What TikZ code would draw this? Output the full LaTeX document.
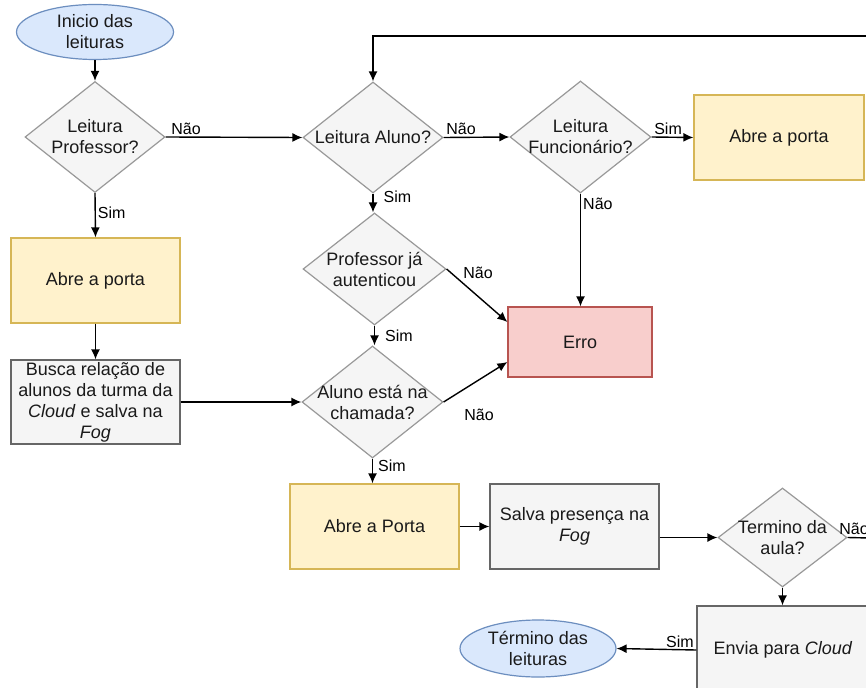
\documentclass[tikz,border=0pt]{standalone}
\usepackage{fontspec}
\setmainfont{Liberation Sans}
\usetikzlibrary{shapes.geometric,arrows.meta,calc}
\definecolor{bluef}{HTML}{DAE8FC}\definecolor{blued}{HTML}{6C8EBF}
\definecolor{yelf}{HTML}{FFF2CC}\definecolor{yeld}{HTML}{D6B656}
\definecolor{redf}{HTML}{F8CECC}\definecolor{redd}{HTML}{B85450}
\definecolor{grayf}{HTML}{F5F5F5}\definecolor{grayd}{HTML}{666666}
\definecolor{diad}{HTML}{999999}\definecolor{txt}{HTML}{1A1A1A}
\tikzset{
  base/.style={inner sep=0pt, align=center, text=txt, line width=1.2pt, font=\fontsize{18}{21}\selectfont},
  term/.style={base, ellipse, fill=bluef, draw=blued},
  yelbox/.style={base, rectangle, fill=yelf, draw=yeld},
  graybox/.style={base, rectangle, fill=grayf, draw=grayd},
  redbox/.style={base, rectangle, fill=redf, draw=redd},
  decis/.style={base, diamond, fill=grayf, draw=diad},
  dtxt/.style={base, draw=none, fill=none},
  arr/.style={line width=1.4pt, -{Latex[length=10pt,width=9pt]}},
  plain/.style={line width=1.4pt},
  lbl/.style={inner sep=2pt, text=black, font=\fontsize{16}{18}\selectfont}
}
\begin{document}
\begin{tikzpicture}[x=1pt,y=-1pt]
\clip (0,0) rectangle (866,687);
\fill[white] (0,0) rectangle (866,687);
% nodes
\node[term, minimum width=157pt, minimum height=55pt] (ini) at (95,32) {Inicio das\\leituras};
\node[decis, minimum width=140pt, minimum height=111pt] (lp) at (95,137) {};
\node[dtxt] (lpt) at (lp) {Leitura\\Professor?};
\node[yelbox, minimum width=169pt, minimum height=85pt] (ab1) at (95.5,280.5) {Abre a porta};
\node[graybox, minimum width=169pt, minimum height=84pt] (busca) at (95.5,402) {Busca relação de\\alunos da turma da\\\textit{Cloud} e salva na\\\textit{Fog}};
\node[decis, minimum width=140pt, minimum height=111pt] (la) at (373,137.5) {};
\node[dtxt] (lat) at (la) {Leitura Aluno?};
\node[decis, minimum width=141pt, minimum height=112pt] (lf) at (580.5,137) {};
\node[dtxt] (lft) at (lf) {Leitura\\Funcionário?};
\node[yelbox, minimum width=170pt, minimum height=85pt] (ab2) at (779,137.5) {Abre a porta};
\node[decis, minimum width=143pt, minimum height=112pt] (pj) at (374.5,269) {};
\node[dtxt] (pjt) at (pj) {Professor já\\autenticou};
\node[redbox, minimum width=144pt, minimum height=70pt] (erro) at (580,342) {Erro};
\node[decis, minimum width=141pt, minimum height=112pt] (ac) at (372.5,402) {};
\node[dtxt] (act) at (ac) {Aluno está na\\chamada?};
\node[yelbox, minimum width=169pt, minimum height=85pt] (ab3) at (374.5,526.5) {Abre a Porta};
\node[graybox, minimum width=169pt, minimum height=85pt] (salva) at (574.5,526.5) {Salva presença na\\\textit{Fog}};
\node[decis, minimum width=129pt, minimum height=99pt] (tm) at (782.5,537.5) {};
\node[dtxt] (tmt) at (tm) {Termino da\\aula?};
\node[graybox, minimum width=172pt, minimum height=88pt] (env) at (783,650) {Envia para \textit{Cloud}};
\node[term, minimum width=156pt, minimum height=57pt] (te) at (538,648.5) {Término das\\leituras};
\coordinate (loopR) at (870,36);
\coordinate (tmR) at (870,538);
% connectors
\draw[arr] (ini) -- (lp);
\draw[arr] (lp.east) -- node[lbl, at start, anchor=south west, xshift=3pt] {Não} (la.west);
\draw[arr] (lp.south) -- node[lbl, pos=0.45, anchor=west] {Sim} (ab1.north);
\draw[arr] (ab1) -- (busca);
\draw[arr] (busca.east) -- (ac.west);
\draw[arr] (la.east) -- node[lbl, at start, anchor=south west] {Não} (lf.west);
\draw[arr] (la.south) -- node[lbl, pos=0.15, anchor=west, xshift=8pt] {Sim} (la.south |- pj.north);
\draw[arr] (lf.east) -- node[lbl, at start, anchor=south west] {Sim} (ab2.west);
\draw[arr] (lf.south) -- node[lbl, pos=0.09, anchor=west] {Não} (lf.south |- erro.north);
\draw[arr] (pj.east) -- node[lbl, at start, anchor=west, xshift=14pt, yshift=-4pt] {Não} ([yshift=20pt]erro.west);
\draw[arr] (pj.south) -- node[lbl, pos=0.5, anchor=west, xshift=8pt] {Sim} (pj.south |- ac.north);
\draw[arr] (ac.east) -- node[lbl, at start, anchor=west, xshift=18pt, yshift=-13pt] {Não} ([yshift=-20pt]erro.west);
\draw[arr] (ac.south) -- node[lbl, pos=0.27, anchor=west, xshift=3pt] {Sim} (ac.south |- ab3.north);
\draw[arr] (ab3.east) -- (salva.west);
\draw[arr] (salva.east |- tm.west) -- (tm.west);
\draw[plain] (tm.east) -- node[lbl, at start, anchor=south west, xshift=-11pt] {Não} (tmR);
\draw[arr] (tm.south) -- (tm.south |- env.north);
\draw[arr] (env.west) -- node[lbl, at start, anchor=south east] {Sim} (te.east);
\draw[arr] (loopR) -- (la.north |- loopR) -- (la.north);
\end{tikzpicture}
\end{document}
